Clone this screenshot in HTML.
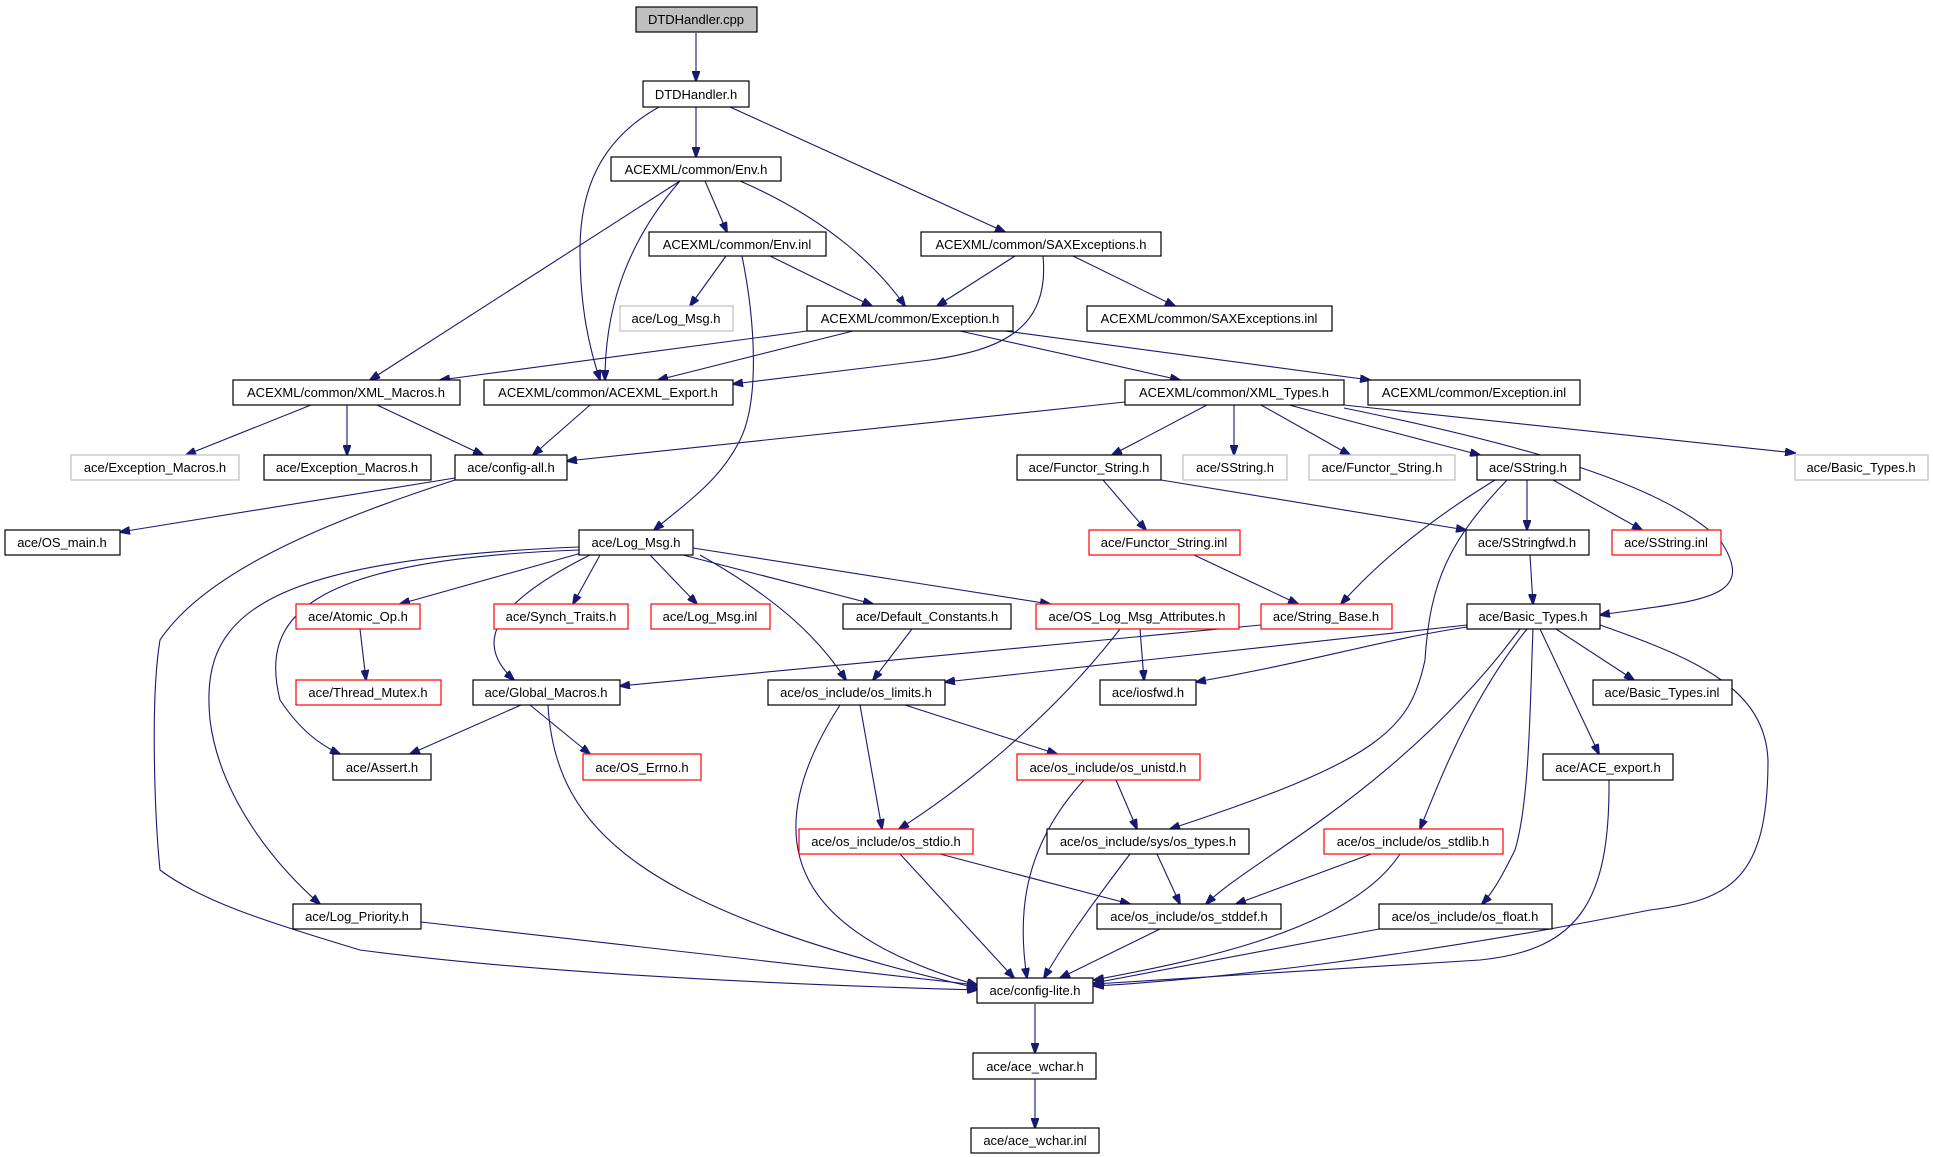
<!DOCTYPE html>
<html><head><meta charset="utf-8"><style>
html,body{margin:0;padding:0;background:#fff;}
svg{display:block}
text{font-family:"Liberation Sans",sans-serif;font-size:13px;text-anchor:middle;fill:#000}
.e{fill:none;stroke:#191970;stroke-width:1.1;marker-end:url(#a)}
.n{fill:#fff;stroke:#000;stroke-width:1.2}
.g{fill:#fff;stroke:#bfbfbf;stroke-width:1.2}
.r{fill:#fff;stroke:#ff0000;stroke-width:1.2}
</style></head><body>
<svg width="1933" height="1157" viewBox="0 0 1933 1157" xmlns="http://www.w3.org/2000/svg">
<defs><marker id="a" markerWidth="11" markerHeight="8" refX="10" refY="4" orient="auto" markerUnits="userSpaceOnUse"><path d="M0,0 L11,4 L0,8 z" fill="#191970" stroke="#191970"/></marker></defs>
<g>
<path class="e" d="M696,33 L696,81"/>
<path class="e" d="M696,107 L696,157"/>
<path class="e" d="M659,107 C600,140 580,190 580,250 C580,310 590,350 600,380"/>
<path class="e" d="M730,107 L1005,232"/>
<path class="e" d="M680,181 L370,380"/>
<path class="e" d="M680,181 C620,250 605,320 605,380"/>
<path class="e" d="M705,181 L727,232"/>
<path class="e" d="M740,181 C830,220 880,270 905,306"/>
<path class="e" d="M726,256 L690,306"/>
<path class="e" d="M770,256 L872,306"/>
<path class="e" d="M742,256 C755,320 760,400 740,440 C720,480 690,500 654,530"/>
<path class="e" d="M1015,256 L937,306"/>
<path class="e" d="M1043,256 C1050,330 1000,350 930,360 L733,384"/>
<path class="e" d="M1073,256 L1175,306"/>
<path class="e" d="M807,331 L440,380"/>
<path class="e" d="M853,331 L658,380"/>
<path class="e" d="M960,331 L1180,380"/>
<path class="e" d="M1005,331 L1370,380"/>
<path class="e" d="M311,405 L186,455"/>
<path class="e" d="M347,405 L347,455"/>
<path class="e" d="M377,405 L483,455"/>
<path class="e" d="M590,405 L533,455"/>
<path class="e" d="M1125,402 L567,461"/>
<path class="e" d="M1207,405 L1112,455"/>
<path class="e" d="M1234,405 L1234,455"/>
<path class="e" d="M1261,405 L1350,455"/>
<path class="e" d="M1289,405 L1480,455"/>
<path class="e" d="M1344,405 L1795,453"/>
<path class="e" d="M1344,408 C1500,440 1660,480 1720,540 C1760,600 1700,600 1600,615"/>
<path class="e" d="M455,478 L120,532"/>
<path class="e" d="M455,480 C300,530 200,580 160,640 C150,700 155,820 160,870 C200,900 260,920 360,950 C550,975 800,985 977,990"/>
<path class="e" d="M1103,480 L1146,530"/>
<path class="e" d="M1161,480 L1466,530"/>
<path class="e" d="M1527,480 L1527,530"/>
<path class="e" d="M1553,480 L1642,530"/>
<path class="e" d="M1495,480 C1430,520 1380,560 1341,604"/>
<path class="e" d="M1507,480 C1450,540 1430,580 1425,660 C1410,730 1380,760 1170,829"/>
<path class="e" d="M1194,555 L1298,604"/>
<path class="e" d="M1530,555 L1533,604"/>
<path class="e" d="M585,552 L400,604"/>
<path class="e" d="M600,555 L573,604"/>
<path class="e" d="M650,555 L697,604"/>
<path class="e" d="M683,555 L873,604"/>
<path class="e" d="M693,548 L1050,604"/>
<path class="e" d="M590,555 C500,600 470,640 514,680"/>
<path class="e" d="M700,555 C780,600 820,640 846,680"/>
<path class="e" d="M579,550 C300,560 260,620 280,700 C300,730 320,745 340,754"/>
<path class="e" d="M579,547 C250,560 200,620 210,720 C220,800 280,870 320,904"/>
<path class="e" d="M360,629 L366,680"/>
<path class="e" d="M912,629 L873,680"/>
<path class="e" d="M1261,625 L620,686"/>
<path class="e" d="M1467,625 L945,682"/>
<path class="e" d="M1467,627 C1380,640 1320,660 1196,682"/>
<path class="e" d="M1556,629 L1634,680"/>
<path class="e" d="M1540,629 L1599,754"/>
<path class="e" d="M1527,629 C1470,700 1440,780 1420,829"/>
<path class="e" d="M1533,629 C1530,700 1530,800 1515,850 C1505,870 1495,890 1482,904"/>
<path class="e" d="M1520,629 C1400,790 1250,860 1206,904"/>
<path class="e" d="M1600,625 C1700,660 1765,690 1768,760 C1768,880 1730,900 1650,910 C1400,960 1200,980 1094,986"/>
<path class="e" d="M1140,629 L1144,680"/>
<path class="e" d="M1120,629 C1050,720 960,790 899,829"/>
<path class="e" d="M521,705 L410,754"/>
<path class="e" d="M530,705 L590,754"/>
<path class="e" d="M548,705 C555,830 640,910 977,988"/>
<path class="e" d="M860,705 L882,829"/>
<path class="e" d="M905,705 L1057,754"/>
<path class="e" d="M840,705 C740,860 820,940 977,985"/>
<path class="e" d="M1116,780 L1137,829"/>
<path class="e" d="M1084,780 C1020,850 1018,920 1027,978"/>
<path class="e" d="M900,854 L1014,978"/>
<path class="e" d="M940,854 L1130,904"/>
<path class="e" d="M1157,854 L1180,904"/>
<path class="e" d="M1130,854 C1080,920 1060,950 1044,978"/>
<path class="e" d="M1371,854 L1236,904"/>
<path class="e" d="M1400,854 C1350,930 1200,960 1094,980"/>
<path class="e" d="M1609,780 C1610,900 1580,950 1480,960 L1094,984"/>
<path class="e" d="M1379,929 L1094,983"/>
<path class="e" d="M1160,929 L1060,978"/>
<path class="e" d="M421,922 L977,985"/>
<path class="e" d="M1035,1004 L1035,1053"/>
<path class="e" d="M1035,1079 L1035,1128"/>
</g>
<g>
<rect x="636" y="7" width="121" height="25" fill="#bfbfbf" stroke="#000" stroke-width="1.2"/><text x="696" y="24">DTDHandler.cpp</text>
<rect class="n" x="643" y="81" width="106" height="26"/><text x="696" y="99">DTDHandler.h</text>
<rect class="n" x="611" y="157" width="170" height="24"/><text x="696" y="174">ACEXML/common/Env.h</text>
<rect class="n" x="649" y="232" width="177" height="24"/><text x="737" y="249">ACEXML/common/Env.inl</text>
<rect class="n" x="921" y="232" width="240" height="24"/><text x="1041" y="249">ACEXML/common/SAXExceptions.h</text>
<rect class="g" x="620" y="306" width="113" height="25"/><text x="676" y="323">ace/Log_Msg.h</text>
<rect class="n" x="807" y="306" width="206" height="25"/><text x="910" y="323">ACEXML/common/Exception.h</text>
<rect class="n" x="1087" y="306" width="245" height="25"/><text x="1209" y="323">ACEXML/common/SAXExceptions.inl</text>
<rect class="n" x="233" y="380" width="227" height="25"/><text x="346" y="397">ACEXML/common/XML_Macros.h</text>
<rect class="n" x="484" y="380" width="249" height="25"/><text x="608" y="397">ACEXML/common/ACEXML_Export.h</text>
<rect class="n" x="1125" y="380" width="219" height="25"/><text x="1234" y="397">ACEXML/common/XML_Types.h</text>
<rect class="n" x="1368" y="380" width="212" height="25"/><text x="1474" y="397">ACEXML/common/Exception.inl</text>
<rect class="g" x="71" y="455" width="168" height="25"/><text x="155" y="472">ace/Exception_Macros.h</text>
<rect class="n" x="264" y="455" width="167" height="25"/><text x="347" y="472">ace/Exception_Macros.h</text>
<rect class="n" x="455" y="455" width="112" height="25"/><text x="511" y="472">ace/config-all.h</text>
<rect class="n" x="1017" y="455" width="144" height="25"/><text x="1089" y="472">ace/Functor_String.h</text>
<rect class="g" x="1183" y="455" width="104" height="25"/><text x="1235" y="472">ace/SString.h</text>
<rect class="g" x="1309" y="455" width="146" height="25"/><text x="1382" y="472">ace/Functor_String.h</text>
<rect class="n" x="1477" y="455" width="103" height="25"/><text x="1528" y="472">ace/SString.h</text>
<rect class="g" x="1795" y="455" width="133" height="25"/><text x="1861" y="472">ace/Basic_Types.h</text>
<rect class="n" x="5" y="530" width="115" height="25"/><text x="62" y="547">ace/OS_main.h</text>
<rect class="n" x="579" y="530" width="114" height="25"/><text x="636" y="547">ace/Log_Msg.h</text>
<rect class="r" x="1089" y="530" width="151" height="25"/><text x="1164" y="547">ace/Functor_String.inl</text>
<rect class="n" x="1466" y="530" width="123" height="25"/><text x="1527" y="547">ace/SStringfwd.h</text>
<rect class="r" x="1612" y="530" width="109" height="25"/><text x="1666" y="547">ace/SString.inl</text>
<rect class="r" x="296" y="604" width="124" height="25"/><text x="358" y="621">ace/Atomic_Op.h</text>
<rect class="r" x="494" y="604" width="134" height="25"/><text x="561" y="621">ace/Synch_Traits.h</text>
<rect class="r" x="651" y="604" width="119" height="25"/><text x="710" y="621">ace/Log_Msg.inl</text>
<rect class="n" x="843" y="604" width="168" height="25"/><text x="927" y="621">ace/Default_Constants.h</text>
<rect class="r" x="1036" y="604" width="203" height="25"/><text x="1137" y="621">ace/OS_Log_Msg_Attributes.h</text>
<rect class="r" x="1261" y="604" width="131" height="25"/><text x="1326" y="621">ace/String_Base.h</text>
<rect class="n" x="1467" y="604" width="133" height="25"/><text x="1533" y="621">ace/Basic_Types.h</text>
<rect class="r" x="296" y="680" width="145" height="25"/><text x="368" y="697">ace/Thread_Mutex.h</text>
<rect class="n" x="473" y="680" width="147" height="25"/><text x="546" y="697">ace/Global_Macros.h</text>
<rect class="n" x="768" y="680" width="177" height="25"/><text x="856" y="697">ace/os_include/os_limits.h</text>
<rect class="n" x="1100" y="680" width="96" height="25"/><text x="1148" y="697">ace/iosfwd.h</text>
<rect class="n" x="1593" y="680" width="139" height="25"/><text x="1662" y="697">ace/Basic_Types.inl</text>
<rect class="n" x="333" y="754" width="98" height="26"/><text x="382" y="772">ace/Assert.h</text>
<rect class="r" x="583" y="754" width="118" height="26"/><text x="642" y="772">ace/OS_Errno.h</text>
<rect class="r" x="1017" y="754" width="183" height="26"/><text x="1108" y="772">ace/os_include/os_unistd.h</text>
<rect class="n" x="1543" y="754" width="130" height="26"/><text x="1608" y="772">ace/ACE_export.h</text>
<rect class="r" x="799" y="829" width="174" height="25"/><text x="886" y="846">ace/os_include/os_stdio.h</text>
<rect class="n" x="1047" y="829" width="202" height="25"/><text x="1148" y="846">ace/os_include/sys/os_types.h</text>
<rect class="r" x="1324" y="829" width="179" height="25"/><text x="1413" y="846">ace/os_include/os_stdlib.h</text>
<rect class="n" x="293" y="904" width="128" height="25"/><text x="357" y="921">ace/Log_Priority.h</text>
<rect class="n" x="1097" y="904" width="184" height="25"/><text x="1189" y="921">ace/os_include/os_stddef.h</text>
<rect class="n" x="1379" y="904" width="173" height="25"/><text x="1465" y="921">ace/os_include/os_float.h</text>
<rect class="n" x="977" y="978" width="116" height="25"/><text x="1035" y="995">ace/config-lite.h</text>
<rect class="n" x="973" y="1053" width="123" height="26"/><text x="1035" y="1071">ace/ace_wchar.h</text>
<rect class="n" x="971" y="1128" width="128" height="25"/><text x="1035" y="1145">ace/ace_wchar.inl</text>
</g>
</svg>
</body></html>
